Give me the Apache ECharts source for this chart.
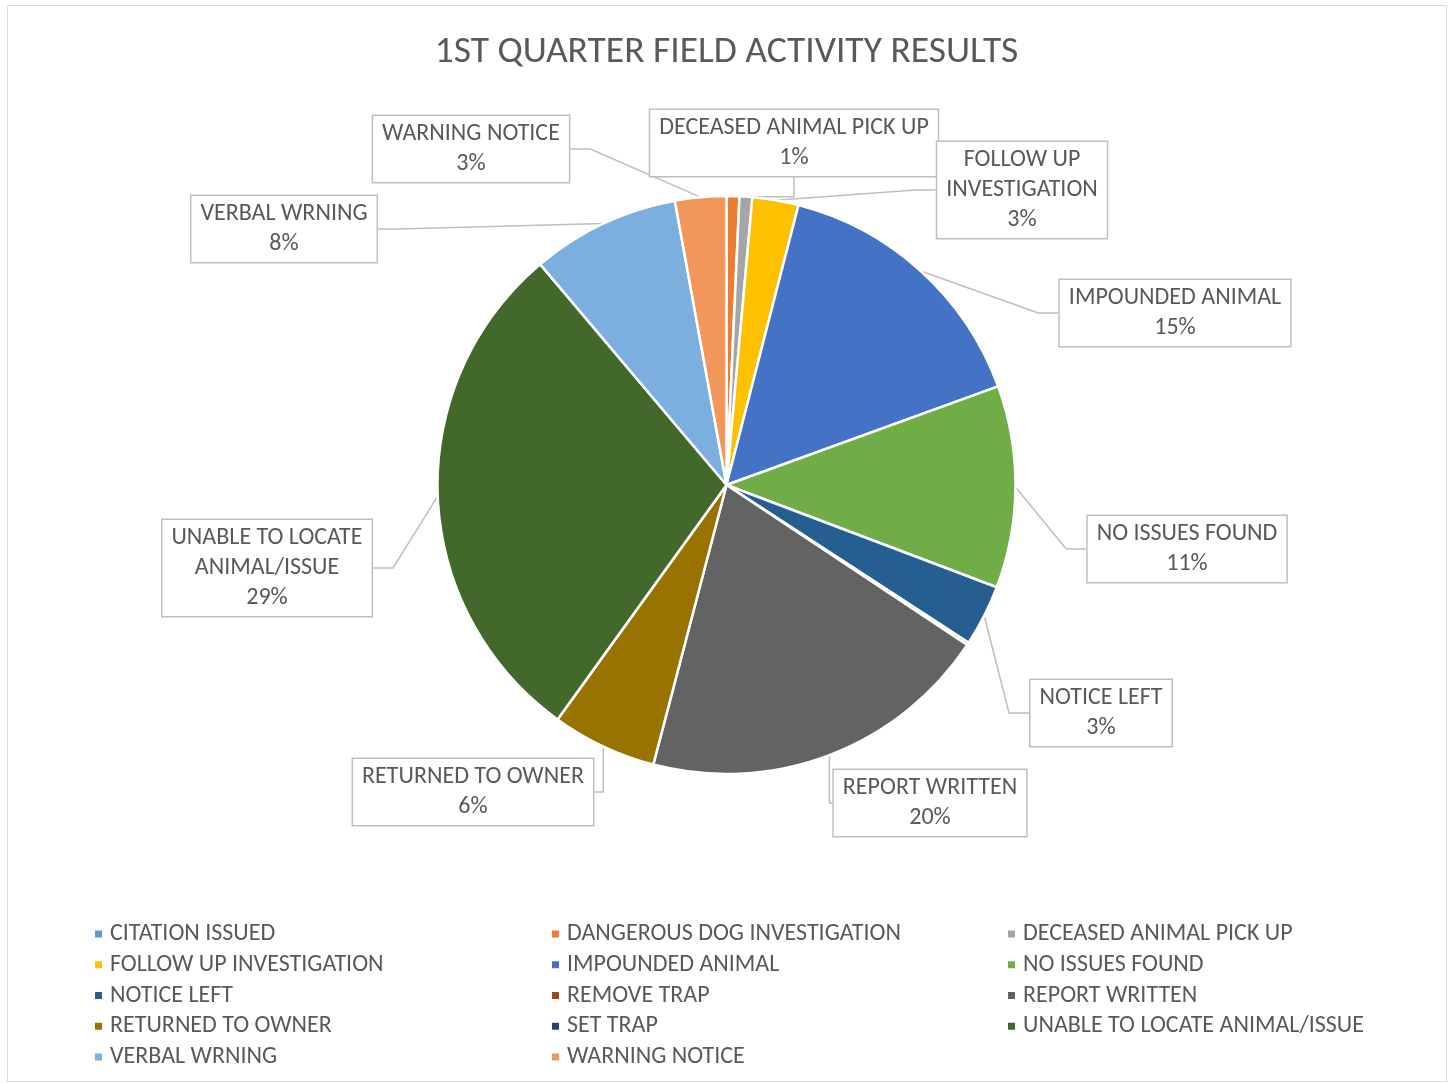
<!DOCTYPE html>
<html>
<head>
<meta charset="utf-8">
<script src="https://cdn.jsdelivr.net/npm/echarts@6/dist/echarts.min.js"></script>
<style>
  html, body { margin: 0; padding: 0; background: #fff; }
  #chart { width: 1453px; height: 1083px; }
</style>
</head>
<body>
<div id="chart"></div>
<script>
// categories in Excel order
var categories = [
  'CITATION ISSUED', 'DANGEROUS DOG INVESTIGATION', 'DECEASED ANIMAL PICK UP',
  'FOLLOW UP INVESTIGATION', 'IMPOUNDED ANIMAL', 'NO ISSUES FOUND',
  'NOTICE LEFT', 'REMOVE TRAP', 'REPORT WRITTEN', 'RETURNED TO OWNER',
  'SET TRAP', 'UNABLE TO LOCATE ANIMAL/ISSUE', 'VERBAL WRNING', 'WARNING NOTICE'
];
// counts
var counts = [0, 5, 5, 18, 108, 79, 24, 1, 138, 41, 0, 202, 58, 20];
var colors = [
  '#5B9BD5', '#ED7D31', '#A5A5A5', '#FFC000', '#4472C4', '#70AD47',
  '#255E91', '#9E480E', '#636363', '#997300', '#264478', '#43682B',
  '#7CAFDD', '#F1975A'
];
// which slices carry a data label
var showLabel = [false, false, true, true, true, true, true, false, true, true, false, true, true, true];
// wrapped label text
var labelText = {
  'FOLLOW UP INVESTIGATION': 'FOLLOW UP\nINVESTIGATION',
  'UNABLE TO LOCATE ANIMAL/ISSUE': 'UNABLE TO LOCATE\nANIMAL/ISSUE'
};
// label box centres
var labelPos = {
  'DECEASED ANIMAL PICK UP': [794, 143],
  'FOLLOW UP INVESTIGATION': [1022, 190],
  'IMPOUNDED ANIMAL': [1175, 313],
  'NO ISSUES FOUND': [1187, 549],
  'NOTICE LEFT': [1101, 713],
  'REPORT WRITTEN': [930, 803],
  'RETURNED TO OWNER': [473, 792],
  'UNABLE TO LOCATE ANIMAL/ISSUE': [267, 568],
  'VERBAL WRNING': [284, 229],
  'WARNING NOTICE': [471, 149]
};
var legendCols = [
  ['CITATION ISSUED', 'FOLLOW UP INVESTIGATION', 'NOTICE LEFT', 'RETURNED TO OWNER', 'VERBAL WRNING'],
  ['DANGEROUS DOG INVESTIGATION', 'IMPOUNDED ANIMAL', 'REMOVE TRAP', 'SET TRAP', 'WARNING NOTICE'],
  ['DECEASED ANIMAL PICK UP', 'NO ISSUES FOUND', 'REPORT WRITTEN', 'UNABLE TO LOCATE ANIMAL/ISSUE']
];
var legendLeft = [88, 545, 1001];

var total = counts.reduce(function (a, b) { return a + b; }, 0);
var font = 'Carlito, Calibri, Lato, sans-serif';

var pieData = categories.map(function (name, i) {
  return {
    name: name,
    value: counts[i],
    itemStyle: { color: colors[i] },
    label: { show: showLabel[i] },
    labelLine: { show: showLabel[i] }
  };
});

var legends = legendCols.map(function (col, i) {
  return {
    data: col,
    orient: 'vertical',
    left: legendLeft[i],
    top: 917,
    icon: 'rect',
    itemWidth: 9,
    itemHeight: 9,
    itemGap: 6.75,
    selectedMode: false,
    textStyle: { fontSize: 24, color: '#595959', fontFamily: font, lineHeight: 24, padding: [0, 0, 0, 2] }
  };
});

var chart = echarts.init(document.getElementById('chart'));
chart.setOption({
  backgroundColor: '#fff',
  animation: false,
  title: {
    text: '1ST QUARTER FIELD ACTIVITY RESULTS',
    left: 'center',
    top: 29,
    textStyle: { fontSize: 37.5, fontWeight: 'normal', color: '#595959', fontFamily: font }
  },
  legend: legends,
  graphic: [{
    type: 'rect',
    shape: { x: 7.5, y: 5.5, width: 1439, height: 1076 },
    style: { fill: 'none', stroke: '#d9d9d9', lineWidth: 1 },
    silent: true
  }],
  series: [{
    type: 'pie',
    center: [726.5, 485],
    radius: 289,
    startAngle: 90,
    clockwise: true,
    data: pieData,
    itemStyle: { borderColor: '#fff', borderWidth: 2.5 },
    emphasis: { disabled: true },
    label: {
      position: 'outside',
      formatter: function (p) {
        var t = labelText[p.name] || p.name;
        return t + '\n' + Math.round(p.value / total * 100) + '%';
      },
      fontSize: 24,
      lineHeight: 30,
      color: '#595959',
      fontFamily: font,
      align: 'center',
      backgroundColor: '#fff',
      borderColor: '#bfbfbf',
      borderWidth: 1.5,
      padding: [3, 9]
    },
    labelLine: { show: true, length: 20, length2: 20, lineStyle: { color: '#bfbfbf', width: 1.5 } },
    labelLayout: function (params) {
      var p = labelPos[categories[params.dataIndex]];
      if (!p) return {};
      return { x: p[0], y: p[1], align: 'center', verticalAlign: 'middle' };
    }
  }]
});
</script>
</body>
</html>
